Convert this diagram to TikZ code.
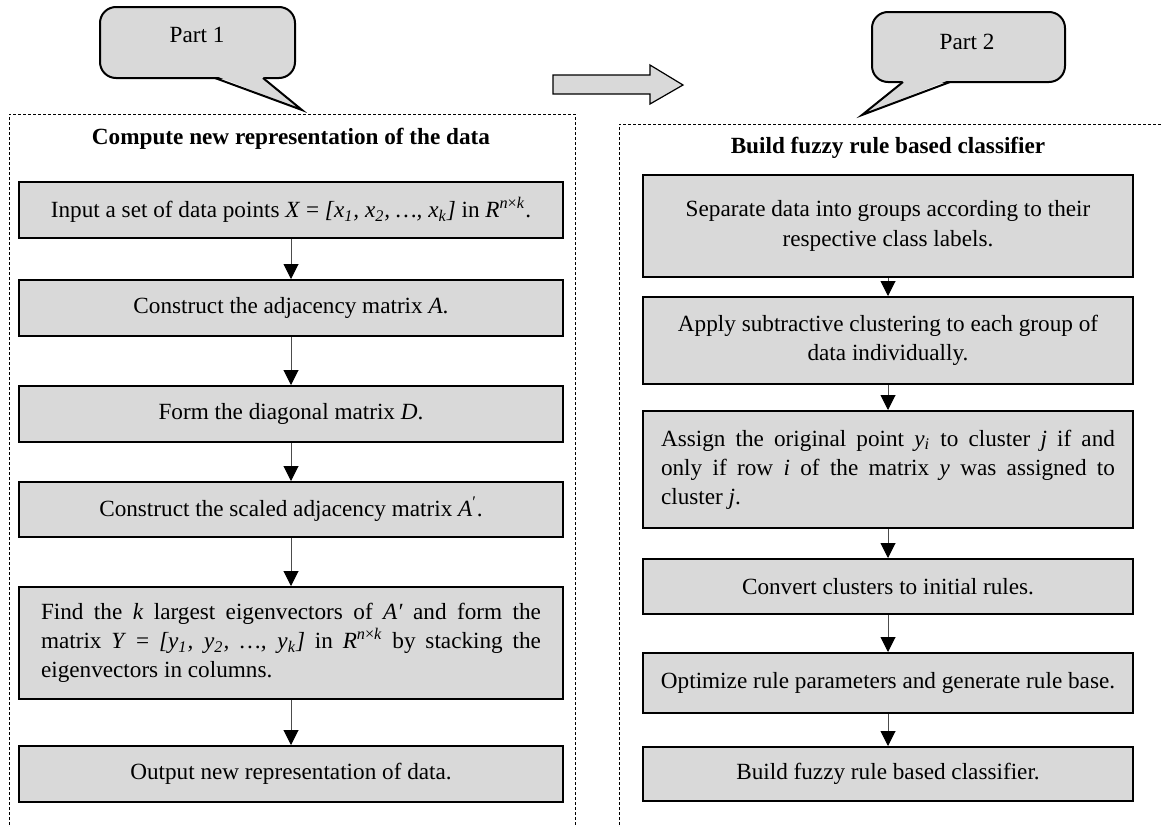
\documentclass[tikz,border=0pt]{standalone}
\usepackage{fontspec}
\setmainfont{Liberation Serif}
\usetikzlibrary{arrows.meta}

\definecolor{boxgray}{RGB}{217,217,217}

\tikzset{
  every node/.style={font=\fontsize{11.6}{14.6}\selectfont},
  lbox/.style={draw, line width=1pt, fill=boxgray, minimum width=272pt, inner xsep=11pt, inner ysep=0pt, align=center},
  rbox/.style={draw, line width=1pt, fill=boxgray, minimum width=245pt, inner xsep=9pt, inner ysep=0pt, align=center},
  flow/.style={draw=black!70, line width=0.5pt, -{Triangle[width=7.5pt, length=7.5pt, black]}},
  frame/.style={line width=0.5pt, dash pattern=on 1.5pt off 1pt},
  balloon/.style={draw, line width=1pt, fill=boxgray},
  title/.style={font=\fontsize{11.6}{14.6}\selectfont\bfseries}
}

\begin{document}
\begin{tikzpicture}[x=0.5pt, y=-0.5pt]
  \useasboundingbox (0,0) rectangle (1163,825);

  % Callouts
  \draw[balloon, rounded corners=8pt] (100,7) rectangle (295,78);
  \fill[boxgray] (216,76) -- (302,110) -- (262,76) -- cycle;
  \draw[line width=1pt] (215,78) -- (302,110) -- (263,78);
  \node (part1) at (197,35) {Part 1};

  \draw[balloon, rounded corners=8pt] (872,12) rectangle (1065,82);
  \fill[boxgray] (904,80) -- (862,115) -- (949,80) -- cycle;
  \draw[line width=1pt] (903,82) -- (862,115) -- (950,82);
  \node (part2) at (967,42) {Part 2};

  % Block arrow between the parts
  \draw[line width=0.6pt, fill=boxgray] (553,75) -- (650,75) -- (650,65) -- (683,85)
    -- (650,104) -- (650,94) -- (553,94) -- cycle;

  % Dotted frames
  \draw[frame] (9,825) -- (9,114) -- (575,114) -- (575,825);
  \draw[frame] (619,825) -- (619,124) -- (1163,124);

  % Part 1
  \node[title] (ltitle) at (291,139) {Compute new representation of the data};
  \node[lbox, minimum height=28pt] (input) at (291,210)
    {Input a set of data points \textit{X} = \textit{[x\textsubscript{1}, x\textsubscript{2}, …, x\textsubscript{k}]} in \textit{R}\textsuperscript{\textit{n}×\textit{k}}.};
  \node[lbox, minimum height=28pt] (adj) at (291,308) {Construct the adjacency matrix \textit{A}.};
  \node[lbox, minimum height=28pt] (diag) at (291,414) {Form the diagonal matrix \textit{D}.};
  \node[lbox, minimum height=27.5pt] (scaled) at (291,509.5) {Construct the scaled adjacency matrix \textit{A}\textsuperscript{′}.};
  \node[lbox, minimum height=56pt, text width=250pt, align=justify] (eig) at (291,643)
    {Find the \textit{k} largest eigenvectors of \textit{A′} and form the\linebreak
     matrix \textit{Y} = \textit{[y\textsubscript{1}, y\textsubscript{2}, …, y\textsubscript{k}]} in \textit{R}\textsuperscript{\textit{n}×\textit{k}} by stacking the\linebreak
     eigenvectors in columns.};
  \node[lbox, minimum height=28pt] (output) at (291,774) {Output new representation of data.};

  \draw[flow] (input) -- (adj);
  \draw[flow] (adj) -- (diag);
  \draw[flow] (diag) -- (scaled);
  \draw[flow] (scaled) -- (eig);
  \draw[flow] (eig) -- (output);

  % Part 2
  \node[title] (rtitle) at (888,148) {Build fuzzy rule based classifier};
  \node[rbox, minimum height=51pt] (sep) at (888,226)
    {Separate data into groups according to their\\ respective class labels.};
  \node[rbox, minimum height=43.5pt] (sub) at (888,340.5)
    {Apply subtractive clustering to each group of\\ data individually.};
  \node[rbox, minimum height=58.5pt, text width=227pt, align=justify] (assign) at (888,469.5)
    {Assign the original point \textit{y\textsubscript{i}} to cluster \textit{j} if and\linebreak
     only if row \textit{i} of the matrix \textit{y} was assigned to\linebreak
     cluster \textit{j}.};
  \node[rbox, minimum height=27.5pt] (conv) at (888,586.5) {Convert clusters to initial rules.};
  \node[rbox, minimum height=30pt] (opt) at (888,683) {Optimize rule parameters and generate rule base.};
  \node[rbox, minimum height=27pt] (build) at (888,774) {Build fuzzy rule based classifier.};

  \draw[flow] (sep) -- (sub);
  \draw[flow] (sub) -- (assign);
  \draw[flow] (assign) -- (conv);
  \draw[flow] (conv) -- (opt);
  \draw[flow] (opt) -- (build);
\end{tikzpicture}
\end{document}
